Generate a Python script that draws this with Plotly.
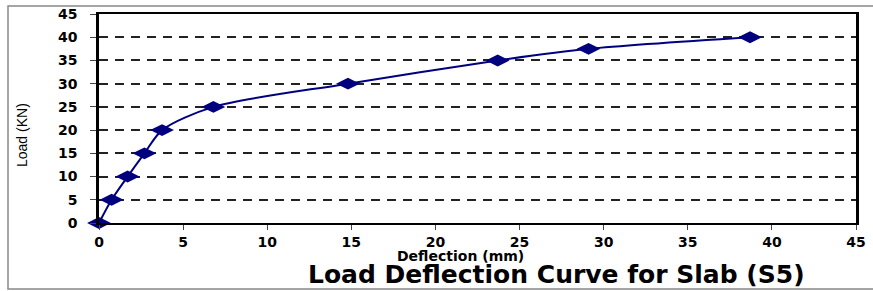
import plotly.graph_objects as go

deflection = [0, 0.75, 1.7, 2.7, 3.75, 6.8, 14.8, 23.7, 29.1, 38.7]
load = [0, 5, 10, 15, 20, 25, 30, 35, 37.5, 40]
tick_vals = [0, 5, 10, 15, 20, 25, 30, 35, 40, 45]

W, H = 873, 291
L, R, T, B = 99, 17, 14, 68
pw, ph = W - L - R, H - T - B

def px(x):
    return (x - L) / pw

def py(y):
    return (H - B - y) / ph

fig = go.Figure()
fig.add_trace(go.Scatter(
    x=deflection, y=load, mode="lines+markers",
    line=dict(color="#00007f", width=2, shape="spline", smoothing=0.8),
    marker=dict(symbol="diamond-wide", size=17, color="#00007f"),
    cliponaxis=False, showlegend=False,
))

tickfont = dict(family="DejaVu Sans", size=14, color="black", weight="bold")
fig.update_xaxes(
    range=[0, 45], tickvals=tick_vals, ticktext=[str(v) for v in tick_vals],
    showgrid=False, zeroline=False, showline=True, linecolor="black", linewidth=2,
    mirror=True, ticks="outside", ticklen=5, tickcolor="#444", tickfont=tickfont,
    ticklabelstandoff=0, automargin=False,
)
fig.update_yaxes(
    range=[0, 45], tickvals=tick_vals, ticktext=[str(v) for v in tick_vals],
    showgrid=True, gridcolor="#222", gridwidth=1.8, griddash="9px,7px",
    zeroline=False, showline=True, linecolor="black", linewidth=2.5,
    mirror=True, ticks="outside", ticklen=6, tickcolor="#444", tickfont=tickfont,
    ticklabelstandoff=10, automargin=False,
)

fig.update_layout(
    width=W, height=H, margin=dict(l=L, r=R, t=T, b=B),
    plot_bgcolor="white", paper_bgcolor="white",
    shapes=[dict(type="rect", xref="paper", yref="paper",
                 x0=px(8), x1=px(880), y0=py(289), y1=py(6),
                 line=dict(color="#888", width=1.5), layer="below")],
    annotations=[
        dict(text="Load (KN)", xref="paper", yref="paper", x=px(22), y=py(135),
             xanchor="center", yanchor="middle",
             textangle=-90, showarrow=False,
             font=dict(family="Liberation Sans", size=14, color="black")),
        dict(text="Deflection (mm)", xref="paper", yref="paper", x=px(460), y=py(256),
             xanchor="center", yanchor="middle", showarrow=False, borderpad=0,
             font=dict(family="DejaVu Sans", size=14, color="black", weight="bold")),
        dict(text="Load Deflection Curve for Slab (S5)", xref="paper", yref="paper",
             x=px(556), y=py(274), xanchor="center", yanchor="middle", showarrow=False,
             borderpad=0,
             font=dict(family="DejaVu Sans", size=25, color="black", weight="bold")),
    ],
)

fig.write_html("out.html", config={"displayModeBar": False},
               post_script="document.body.style.margin='0';")
